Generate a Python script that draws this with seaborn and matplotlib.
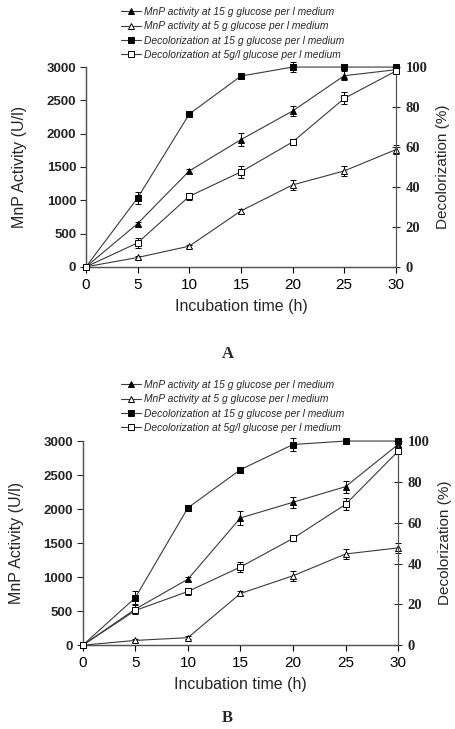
import numpy as np
import pandas as pd
import matplotlib
matplotlib.use("Agg")
import matplotlib.pyplot as plt
import seaborn as sns

# incubation time (h)
hours = [0, 5, 10, 15, 20, 25, 30]

labels = ["MnP activity at 15 g glucose per l medium",
          "MnP activity at 5 g glucose per l medium",
          "Decolorization at 15 g glucose per l medium",
          "Decolorization at 5g/l glucose per l medium"]

# panel A - MnP in U/l, decolorization in %
a_mnp15 = [0, 650, 1440, 1910, 2340, 2870, 2960]
a_mnp15_err = [0, 30, 30, 100, 80, 70, 40]
a_mnp5 = [0, 140, 310, 840, 1230, 1440, 1760]
a_mnp5_err = [0, 20, 20, 30, 80, 70, 70]
a_dec15 = [0, 34.5, 76.5, 95.5, 100, 100, 100]
a_dec15_err = [0, 3, 1.5, 1.5, 2.5, 0.5, 0.5]
a_dec5 = [0, 12, 35.3, 47.5, 62.5, 84.3, 98]
a_dec5_err = [0, 2.5, 1.8, 3, 1.5, 3, 1]

# panel B
b_mnp15 = [0, 530, 970, 1870, 2100, 2330, 2950]
b_mnp15_err = [0, 60, 30, 100, 80, 90, 40]
b_mnp5 = [0, 70, 110, 760, 1020, 1340, 1430]
b_mnp5_err = [0, 20, 20, 30, 70, 70, 70]
b_dec15 = [0, 23.3, 67.3, 86, 98.3, 100, 100]
b_dec15_err = [0, 3, 1.5, 1.5, 3, 0.5, 0.5]
b_dec5 = [0, 17, 26.3, 38.3, 52.3, 69, 95]
b_dec5_err = [0, 1.5, 1.5, 2.5, 1.5, 3, 1.5]

left_ticks = [0, 500, 1000, 1500, 2000, 2500, 3000]
right_ticks = [0, 20, 40, 60, 80, 100]

sns.set_theme(style="white")
plt.rcParams["font.family"] = ["Liberation Sans", "DejaVu Sans"]

LC = "#3a3a3a"
styles = [("^", "black"), ("^", "white"), ("s", "black"), ("s", "white")]


def draw_series(ax, y, err, idx, label):
    mk, fc = styles[idx]
    df = pd.DataFrame({"h": hours, "v": y})
    sns.lineplot(data=df, x="h", y="v", ax=ax, color=LC, lw=0.8, marker=mk,
                 markersize=4.5 if mk == "s" else 5, markerfacecolor=fc,
                 markeredgecolor="black", markeredgewidth=0.7, label=label,
                 legend=False, zorder=3, clip_on=False)
    ax.errorbar(hours, y, yerr=err, fmt="none", ecolor="black", elinewidth=0.7,
                capsize=2, capthick=0.7, zorder=2, clip_on=False)


def panel(rect, mnp15, mnp15e, mnp5, mnp5e, dec15, dec15e, dec5, dec5e, ly):
    ax = fig.add_axes(rect)
    ax2 = ax.twinx()
    draw_series(ax, mnp15, mnp15e, 0, labels[0])
    draw_series(ax, mnp5, mnp5e, 1, labels[1])
    draw_series(ax2, dec15, dec15e, 2, labels[2])
    draw_series(ax2, dec5, dec5e, 3, labels[3])

    ax.set_xlim(0, 30)
    ax.set_ylim(0, 3000)
    ax2.set_ylim(0, 100)
    ax.set_xticks(hours)
    ax.set_yticks(left_ticks)
    ax2.set_yticks(right_ticks)
    ax.tick_params(axis="x", direction="out", length=4, width=0.8, labelsize=11,
                   bottom=True, pad=4, colors="black")
    ax.tick_params(axis="y", direction="out", length=4, width=0.8, left=True,
                   labelsize=9.5, pad=3)
    for t in ax.get_yticklabels():
        t.set_fontweight("bold")
    ax2.tick_params(axis="y", direction="inout", length=6, width=0.8, right=True,
                    labelsize=10.5, pad=4)
    for t in ax2.get_yticklabels():
        t.set_fontweight("bold")
        t.set_family("Liberation Serif")

    for a in (ax, ax2):
        a.spines["top"].set_visible(False)
        for s in ("left", "right", "bottom"):
            a.spines[s].set_color("#555555")
            a.spines[s].set_linewidth(0.9)
    ax.spines["right"].set_visible(False)

    ax.set_xlabel("Incubation time (h)", fontsize=11.5, labelpad=5)
    ax.set_ylabel("MnP Activity (U/l)", fontsize=11.5, labelpad=14)
    ax2.set_ylabel("Decolorization (%)", fontsize=11, labelpad=6)

    h1, l1 = ax.get_legend_handles_labels()
    h2, l2 = ax2.get_legend_handles_labels()
    fig.legend(h1 + h2, l1 + l2, loc="upper left", bbox_to_anchor=(0.265, ly),
               frameon=False, prop={"style": "italic", "size": 7.4},
               handlelength=2.0, handletextpad=0.3, labelspacing=0.42,
               borderaxespad=0, borderpad=0)
    return ax


fig = plt.figure(figsize=(4.55, 7.29), dpi=100)

panel([0.189, 0.634, 0.681, 0.274], a_mnp15, a_mnp15_err, a_mnp5, a_mnp5_err,
      a_dec15, a_dec15_err, a_dec5, a_dec5_err, 1 - 7 / 729)
fig.text(0.5, 1 - 354 / 729, "A", ha="center", va="center", fontsize=12,
         fontweight="bold", family="Liberation Serif")

panel([0.182, 0.115, 0.693, 0.280], b_mnp15, b_mnp15_err, b_mnp5, b_mnp5_err,
      b_dec15, b_dec15_err, b_dec5, b_dec5_err, 1 - 380 / 729)
fig.text(0.5, 1 - 718 / 729, "B", ha="center", va="center", fontsize=12,
         fontweight="bold", family="Liberation Serif")

fig.savefig("out.png", dpi=100, facecolor="white")
